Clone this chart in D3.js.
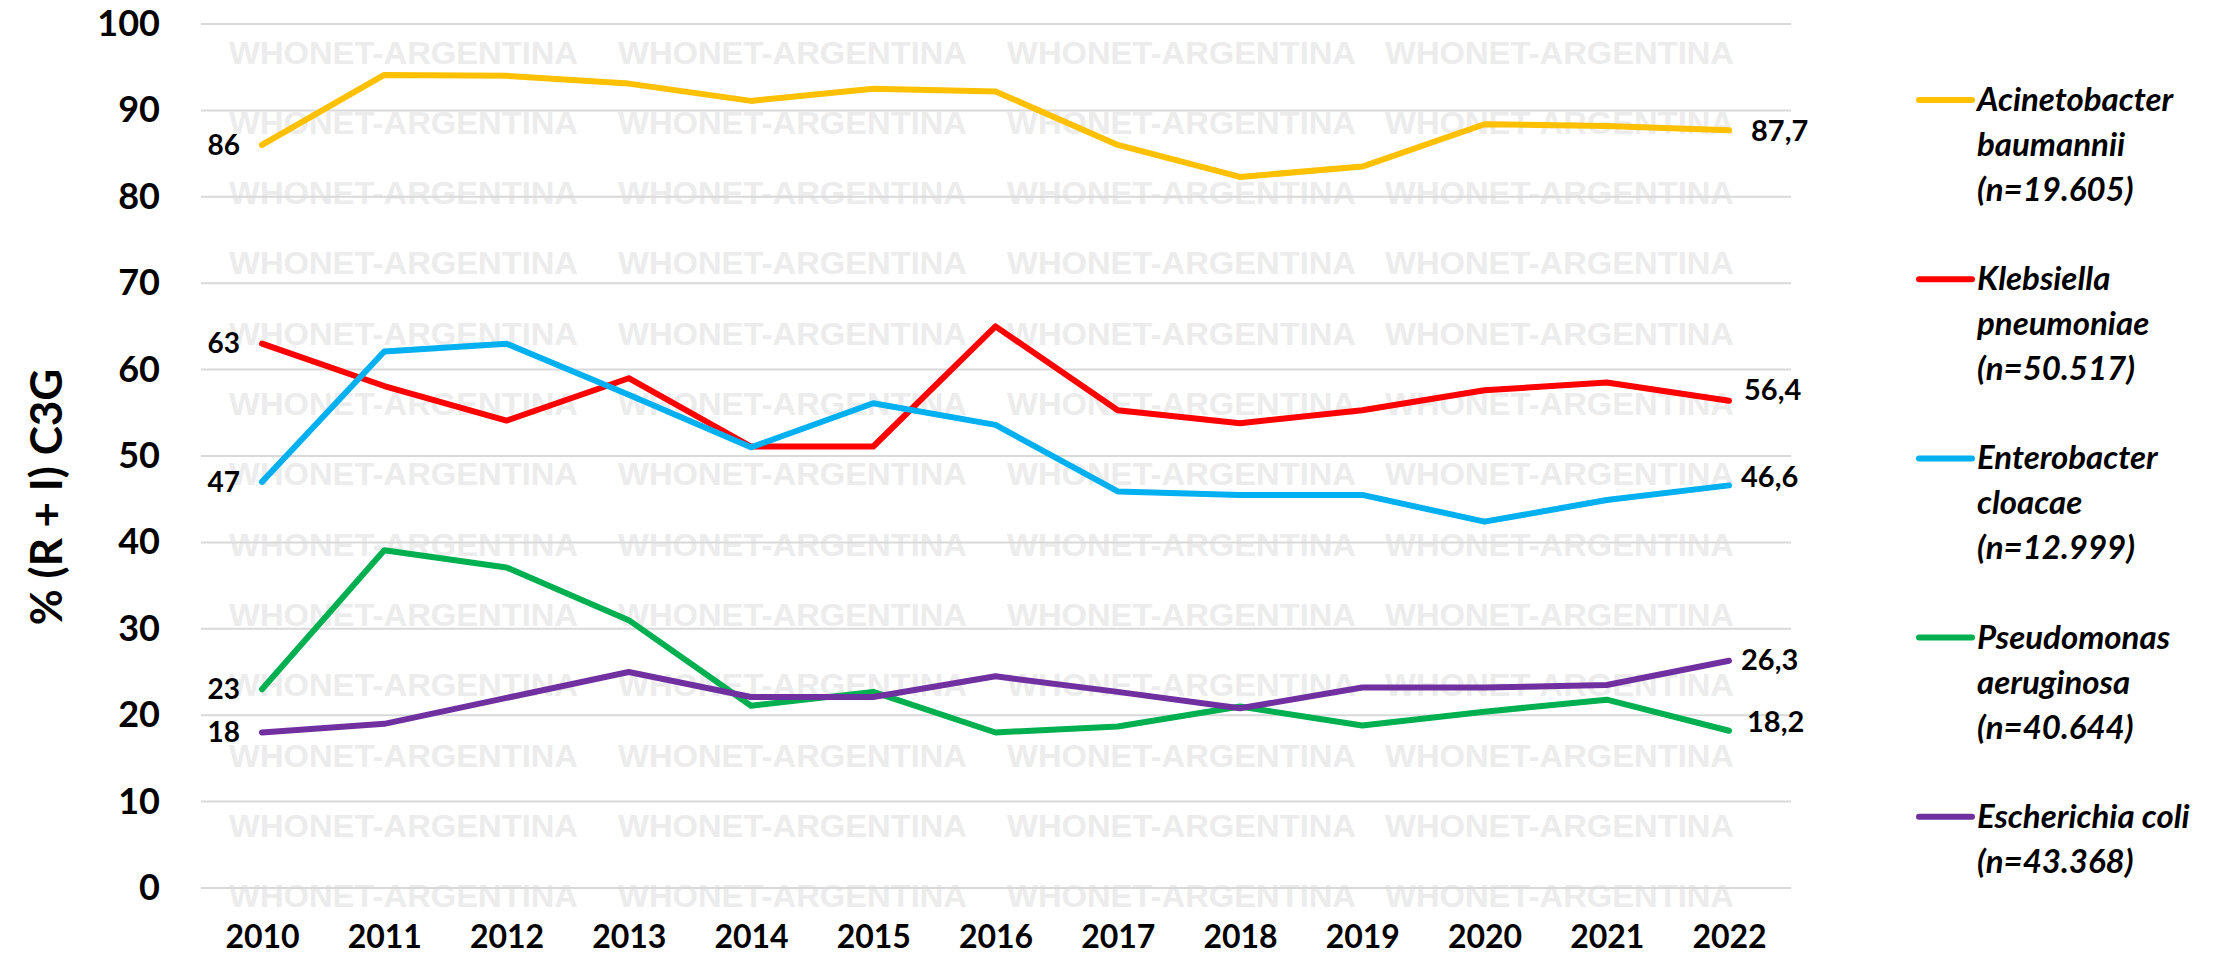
<!DOCTYPE html>
<html>
<head>
<meta charset="utf-8">
<script src="https://cdn.jsdelivr.net/npm/d3@7"></script>
<style>
  body { margin: 0; background: #fff; }
  text { font-family: Lato, "Open Sans", sans-serif; font-weight: bold; }
</style>
</head>
<body>
<svg id="chart" width="2231" height="955"></svg>
<script>
// data
var years = [2010, 2011, 2012, 2013, 2014, 2015, 2016, 2017, 2018, 2019, 2020, 2021, 2022];
var acinetobacter = [86, 94.1, 94, 93.1, 91.1, 92.5, 92.2, 86, 82.3, 83.5, 88.4, 88.2, 87.7];
var klebsiella    = [63, 58.1, 54.1, 59, 51.1, 51.1, 65, 55.3, 53.8, 55.3, 57.6, 58.5, 56.4];
var enterobacter  = [47, 62.1, 63, 57.1, 51, 56.1, 53.6, 45.9, 45.5, 45.5, 42.4, 44.9, 46.6];
var pseudomonas   = [23, 39.1, 37.1, 31, 21.1, 22.7, 18, 18.7, 21, 18.8, 20.4, 21.8, 18.2];
var ecoli         = [18, 19, 22, 25, 22.1, 22.1, 24.5, 22.7, 20.8, 23.2, 23.2, 23.5, 26.3];
var legendLabels = [
  ["Acinetobacter", "baumannii", "(n=19.605)"],
  ["Klebsiella", "pneumoniae", "(n=50.517)"],
  ["Enterobacter", "cloacae", "(n=12.999)"],
  ["Pseudomonas", "aeruginosa", "(n=40.644)"],
  ["Escherichia coli", "(n=43.368)"]
];
var yTicks = [0, 10, 20, 30, 40, 50, 60, 70, 80, 90, 100];
var yTitle = "% (R + I) C3G";
var watermark = "WHONET-ARGENTINA";

var allSeries = [acinetobacter, klebsiella, enterobacter, pseudomonas, ecoli];
var colors = ["#FFC000", "#FF0000", "#00B0F0", "#00B050", "#7030A0"];
// nudges for the end labels so they sit like the original
var endLabelDx = [22, 15, 12, 18, 12];
var endLabelDy = [1, -11, -9, -9, -1];

var svg = d3.select("#chart");
svg.append("rect").attr("width", 2231).attr("height", 955).attr("fill", "#fff");

var plotLeft = 201, plotRight = 1791;
var x = d3.scalePoint().domain(years).range([262, 1729]);
var y = d3.scaleLinear().domain([0, 100]).range([888, 24]);

var locale = d3.formatLocale({decimal: ",", thousands: ".", grouping: [3], currency: ["$", ""]});
var fmt = locale.format(".1~f");

// watermark
var wmCols = [229, 618, 1007, 1385];
var wmRows = d3.range(13).map(function(i) { return 52 + i * 70.3; });
var wm = svg.append("g");
wmRows.forEach(function(ry) {
  wmCols.forEach(function(cx) {
    wm.append("text")
      .attr("x", cx).attr("y", ry + 11.5)
      .attr("textLength", 349)
      .attr("lengthAdjust", "spacingAndGlyphs")
      .style("font-family", "'Liberation Sans', Arial, sans-serif")
      .style("font-size", "32px")
      .attr("fill", "#ececec")
      .text(watermark);
  });
});

// gridlines
svg.append("g").selectAll("line")
  .data(yTicks)
  .enter().append("line")
    .attr("x1", plotLeft).attr("x2", plotRight)
    .attr("y1", function(d) { return y(d); })
    .attr("y2", function(d) { return y(d); })
    .attr("stroke", "#d9d9d9")
    .attr("stroke-width", 2);

// y axis
var yAxis = svg.append("g")
  .attr("transform", "translate(160,0)")
  .call(d3.axisLeft(y).tickValues(yTicks).tickSize(0).tickPadding(0));
yAxis.select(".domain").remove();
yAxis.selectAll("text").style("font-size", "36px").attr("fill", "#000")
  .style("font-family", "Lato, sans-serif");

// x axis
var xAxis = svg.append("g")
  .attr("transform", "translate(0,888)")
  .call(d3.axisBottom(x).tickSize(0).tickPadding(37));
xAxis.select(".domain").remove();
xAxis.selectAll("text").style("font-size", "32px").attr("fill", "#000")
  .style("font-family", "Lato, sans-serif");

// y title
svg.append("text")
  .attr("transform", "translate(62,497) rotate(-90)")
  .attr("text-anchor", "middle")
  .style("font-size", "44px")
  .text(yTitle);

// lines
var line = d3.line()
  .x(function(d, i) { return x(years[i]); })
  .y(function(d) { return y(d); });

svg.append("g").selectAll("path")
  .data(allSeries)
  .enter().append("path")
    .attr("d", line)
    .attr("fill", "none")
    .attr("stroke", function(d, i) { return colors[i]; })
    .attr("stroke-width", 6)
    .attr("stroke-linecap", "round")
    .attr("stroke-linejoin", "round");

// first / last value labels
allSeries.forEach(function(s, i) {
  svg.append("text")
    .attr("x", x(years[0]) - 22)
    .attr("y", y(s[0]))
    .attr("dy", "0.35em")
    .attr("text-anchor", "end")
    .style("font-size", "28px")
    .text(fmt(s[0]));
  svg.append("text")
    .attr("x", x(years[years.length - 1]) + endLabelDx[i])
    .attr("y", y(s[s.length - 1]) + endLabelDy[i])
    .attr("dy", "0.35em")
    .style("font-size", "29px")
    .text(fmt(s[s.length - 1]));
});

// legend
var legend = svg.append("g").attr("transform", "translate(1919,100)");
var item = legend.selectAll("g")
  .data(legendLabels)
  .enter().append("g")
    .attr("transform", function(d, i) { return "translate(0," + (i * 179.2) + ")"; });
item.append("line")
  .attr("x1", 0).attr("x2", 53)
  .attr("stroke", function(d, i) { return colors[i]; })
  .attr("stroke-width", 6)
  .attr("stroke-linecap", "round");
item.append("text")
  .style("font-size", "33px")
  .style("font-style", "italic")
  .selectAll("tspan")
  .data(function(d) { return d; })
  .enter().append("tspan")
    .attr("x", 58)
    .attr("y", function(d, i) { return 11 + i * 45; })
    .text(function(d) { return d; });
</script>
</body>
</html>
